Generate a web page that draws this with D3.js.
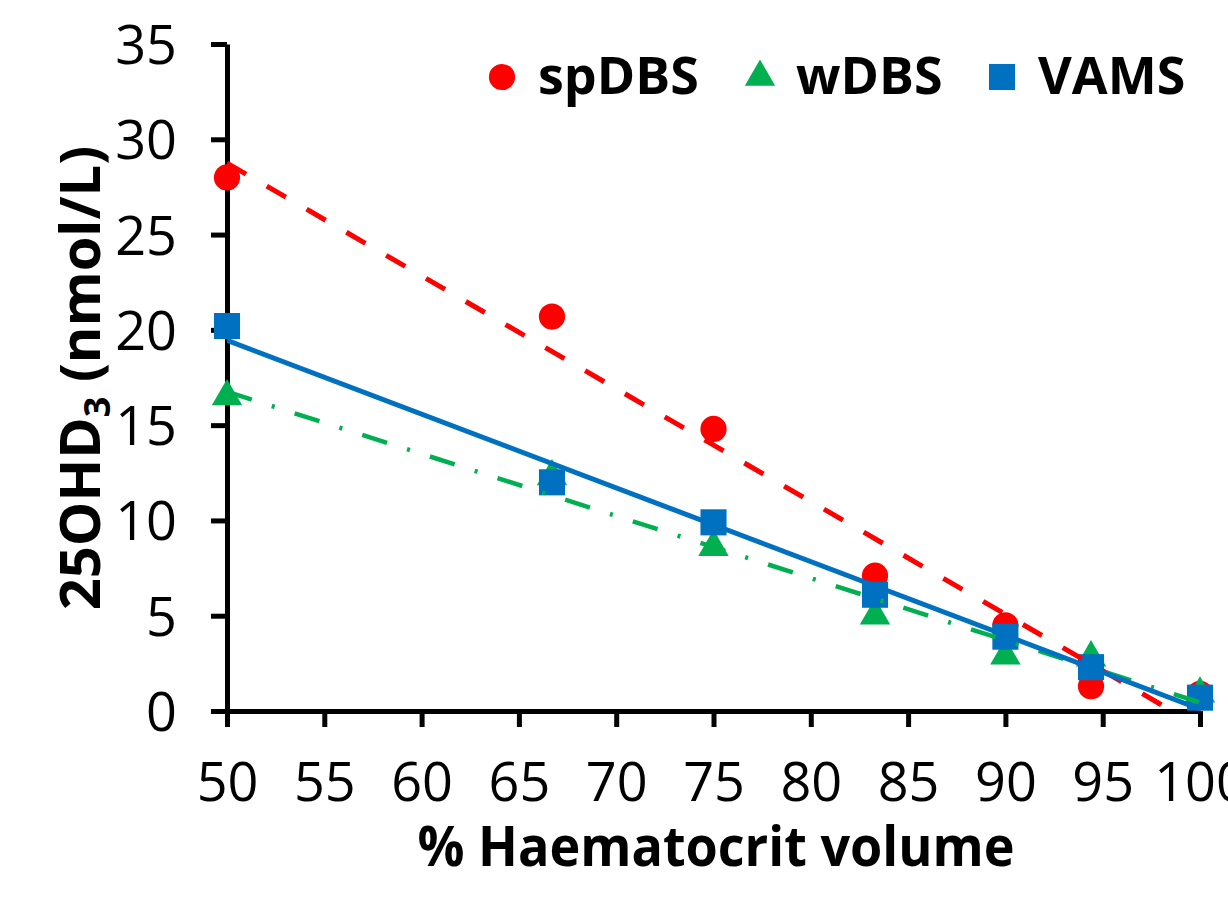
<!DOCTYPE html>
<html>
<head>
<meta charset="utf-8">
<script src="https://cdn.jsdelivr.net/npm/d3@7"></script>
<style>
  body { margin: 0; background: #fff; }
  svg { display: block; }
  text { font-family: "Open Sans", "Liberation Sans", sans-serif; fill: #000; }
</style>
</head>
<body>
<svg id="chart" width="1228" height="899"></svg>
<script>
// haematocrit levels (%)
const hct = [50, 66.7, 75, 83.3, 90, 94.4, 100];
const spDBS = [28.0, 20.7, 14.8, 7.1, 4.5, 1.3, 0.9];
const wDBS = [16.5, 12.3, 8.6, 5.0, 2.9, 2.8, 0.9];
const VAMS = [20.2, 12.0, 9.9, 6.1, 3.9, 2.3, 0.7];
const xTicks = [50, 55, 60, 65, 70, 75, 80, 85, 90, 95, 100];
const yTicks = [0, 5, 10, 15, 20, 25, 30, 35];

const series = [
    { name: 'spDBS', values: spDBS, color: '#ff0000', shape: d3.symbolCircle, dash: '22,24', width: 5 },
    { name: 'wDBS', values: wDBS, color: '#00b050', shape: d3.symbolTriangle, dash: '26,21,3,21', width: 4.5 },
    { name: 'VAMS', values: VAMS, color: '#0070c0', shape: d3.symbolSquare, dash: null, width: 5 }
];

const svg = d3.select('#chart');
const x = d3.scaleLinear().domain([50, 100]).range([227, 1200]);
const y = d3.scaleLinear().domain([0, 35]).range([711, 44]);

// clip for trendlines (plot area)
svg.append('clipPath').attr('id', 'plotClip')
    .append('rect')
    .attr('x', x(50)).attr('y', y(35))
    .attr('width', x(100) - x(50)).attr('height', y(0) - y(35));

// axes
const xAxis = svg.append('g')
    .attr('transform', `translate(0,${y(0)})`)
    .call(d3.axisBottom(x).tickValues(xTicks).tickSize(16).tickSizeOuter(0).tickPadding(36));
const yAxis = svg.append('g')
    .attr('transform', `translate(${x(50)},0)`)
    .call(d3.axisLeft(y).tickValues(yTicks).tickSize(16).tickSizeOuter(0).tickPadding(34));

[xAxis, yAxis].forEach(g => {
    g.select('.domain').attr('stroke', '#000').attr('stroke-width', 5);
    g.selectAll('.tick line').attr('stroke', '#000').attr('stroke-width', 5);
    g.selectAll('.tick text')
        .attr('font-size', 54)
        .style('font-family', '"Open Sans", "Liberation Sans", sans-serif')
        .attr('fill', '#000');
});
yAxis.selectAll('.tick text').attr('dy', '0.36em');

// markers
function symbolFor(s) {
    const size = s.shape === d3.symbolTriangle ? 400 : s.shape === d3.symbolSquare ? 680 : 540;
    return d3.symbol().type(s.shape).size(size);
}

series.forEach(s => {
    svg.append('g').selectAll('path')
        .data(s.values)
        .join('path')
        .attr('d', symbolFor(s))
        .attr('transform', (d, i) => `translate(${x(hct[i])},${y(d)})`)
        .attr('fill', s.color);
});

// linear trendlines (least squares)
function fit(values) {
    const mx = d3.mean(hct), my = d3.mean(values);
    let sxy = 0, sxx = 0;
    hct.forEach((h, i) => {
        sxy += (h - mx) * (values[i] - my);
        sxx += (h - mx) * (h - mx);
    });
    const slope = sxy / sxx;
    return h => my + slope * (h - mx);
}

series.forEach(s => {
    const f = fit(s.values);
    const ends = [50, 100];
    const line = d3.line().x(d => x(d)).y(d => y(f(d)));
    svg.append('path')
        .attr('clip-path', 'url(#plotClip)')
        .attr('d', line(ends))
        .attr('fill', 'none')
        .attr('stroke', s.color)
        .attr('stroke-width', s.width)
        .attr('stroke-dasharray', s.dash);
});

// legend
const legendX = [502, 760, 1002];
const legend = svg.append('g');
series.forEach((s, i) => {
    legend.append('path')
        .attr('d', symbolFor(s))
        .attr('transform', `translate(${legendX[i]},77)`)
        .attr('fill', s.color);
    legend.append('text')
        .attr('x', legendX[i] + 36)
        .attr('y', 94)
        .attr('font-size', 52)
        .attr('font-weight', 'bold')
        .text(s.name);
});

// axis titles
svg.append('text')
    .attr('x', 716)
    .attr('y', 866)
    .attr('text-anchor', 'middle')
    .attr('font-size', 55)
    .attr('font-weight', 'bold')
    .attr('textLength', 597)
    .attr('lengthAdjust', 'spacingAndGlyphs')
    .text('% Haematocrit volume');

const yTitle = svg.append('text')
    .attr('transform', 'translate(100,378) rotate(-90)')
    .attr('text-anchor', 'middle')
    .attr('font-size', 56)
    .attr('font-weight', 'bold');
yTitle.append('tspan').text('25OHD');
yTitle.append('tspan').attr('font-size', 36).attr('dy', 10).text('3');
yTitle.append('tspan').attr('dy', -10).text(' (nmol/L)');
</script>
</body>
</html>
